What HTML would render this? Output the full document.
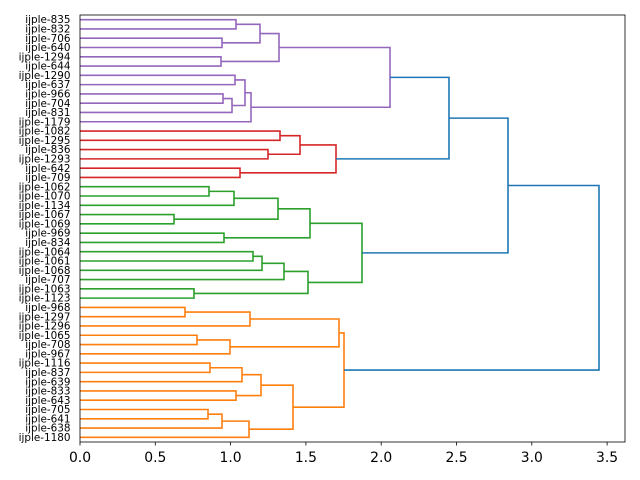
<!DOCTYPE html>
<html><head><meta charset="utf-8"><style>
html,body{margin:0;padding:0;background:#fff;}
svg{display:block;font-family:"DejaVu Sans","Liberation Sans",sans-serif;}
</style></head><body>
<svg id="s" width="640" height="480" xmlns="http://www.w3.org/2000/svg"></svg>
<script>
const names=["835","832","706","640","1294","644","1290","637","966","704","831","1179","1082","1295","836","1293","642","709","1062","1070","1134","1067","1069","969","834","1064","1061","1068","707","1063","1123","968","1297","1296","1065","708","967","1116","837","639","833","643","705","641","638","1180"];
const T=15,B=442,L=80,R=625;
const sp=(B-T)/names.length;
function ly(i){return T+(i+0.5)*sp;}
let out=[];
const C={p:"#9467bd",r:"#d62728",g:"#2ca02c",o:"#ff7f0e",b:"#1f77b4"};
function leaf(i){return {x:L,y:ly(i)};}
function m(a,b,x,c){
  if(typeof a==="number")a=leaf(a);
  if(typeof b==="number")b=leaf(b);
  out.push(`<path d="M${a.x},${a.y}H${x}V${b.y}H${b.x}" fill="none" stroke="${C[c]}" stroke-width="1.6"/>`);
  return {x:x,y:(a.y+b.y)/2};
}
let A1=m(0,1,236,'p'),A2=m(2,3,222,'p'),A3=m(A1,A2,260,'p'),A4=m(4,5,221,'p'),A5=m(A3,A4,279,'p');
let B1=m(6,7,235,'p'),B2=m(8,9,223,'p'),B3=m(B2,10,232,'p'),B4=m(B1,B3,245,'p'),B5=m(B4,11,251,'p');
let P=m(A5,B5,390,'p');
let R1=m(12,13,280,'r'),R2=m(14,15,268,'r'),R3=m(R1,R2,300,'r'),R4=m(16,17,240,'r'),R5=m(R3,R4,336,'r');
let BL1=m(P,R5,449,'b');
let G1=m(18,19,209,'g'),G2=m(G1,20,234,'g'),G3=m(21,22,174,'g'),G4=m(G2,G3,278,'g'),G5=m(23,24,224,'g'),G6=m(G4,G5,310,'g');
let H1=m(25,26,253,'g'),H2=m(H1,27,262,'g'),H3=m(H2,28,284,'g'),H4=m(29,30,194,'g'),H5=m(H3,H4,308,'g');
let G=m(G6,H5,362,'g');
let BL2=m(BL1,G,508,'b');
let O1=m(31,32,185,'o'),O2=m(O1,33,250,'o'),O3=m(34,35,197,'o'),O4=m(O3,36,230,'o'),O5=m(O2,O4,339,'o');
let O6=m(37,38,210,'o'),O7=m(O6,39,242,'o'),O8=m(40,41,236,'o'),O9=m(O7,O8,261,'o');
let O10=m(42,43,208,'o'),O11=m(O10,44,222,'o'),O12=m(O11,45,249,'o'),O13=m(O9,O12,293,'o'),O14=m(O5,O13,344,'o');
m(BL2,O14,599,'b');
out.push(`<rect x="${L}" y="${T}" width="${R-L}" height="${B-T}" fill="none" stroke="#000" stroke-width="0.8"/>`);
for(let k=0;k<=7;k++){
  const v=k*0.5,x=L+150.6*v;
  out.push(`<line x1="${x}" y1="${B}" x2="${x}" y2="${B+3.5}" stroke="#000" stroke-width="0.8"/>`);
  out.push(`<text x="${x}" y="${B+20}" font-size="13.9" text-anchor="middle" fill="#000">${v.toFixed(1)}</text>`);
}
names.forEach((n,i)=>{
  out.push(`<text x="70.5" y="${ly(i)+3.6}" font-size="10.4" text-anchor="end" fill="#000">ijple-${n}</text>`);
});
document.getElementById('s').innerHTML=out.join('');
</script>
</body></html>
